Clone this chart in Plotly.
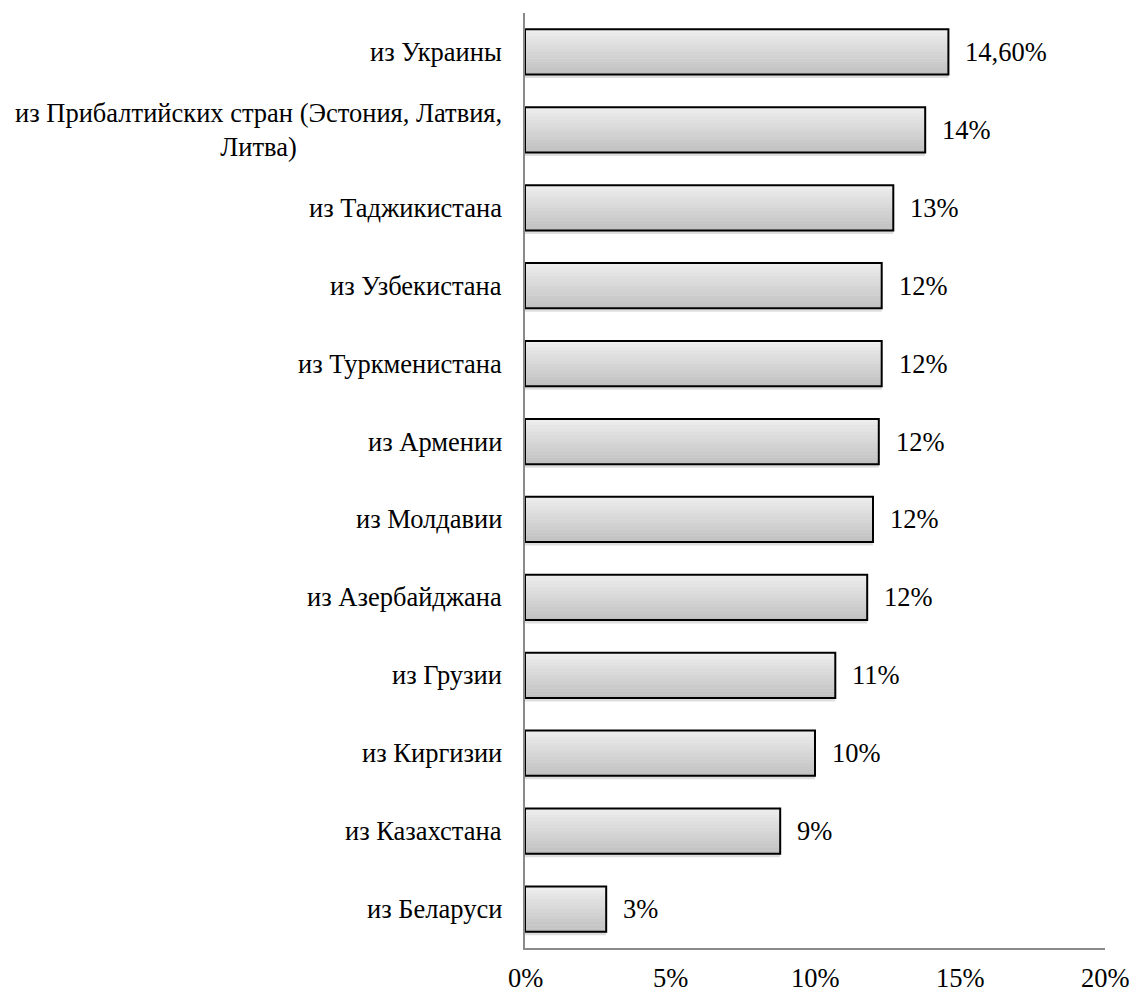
import plotly.graph_objects as go

categories = [
    "из Украины",
    "из Прибалтийских стран (Эстония, Латвия,<br>Литва)",
    "из Таджикистана",
    "из Узбекистана",
    "из Туркменистана",
    "из Армении",
    "из Молдавии",
    "из Азербайджана",
    "из Грузии",
    "из Киргизии",
    "из Казахстана",
    "из Беларуси",
]
values = [14.6, 13.8, 12.7, 12.3, 12.3, 12.2, 12.0, 11.8, 10.7, 10.0, 8.8, 2.8]
value_labels = ["14,60%", "14%", "13%", "12%", "12%", "12%", "12%", "12%", "11%", "10%", "9%", "3%"]
tick_vals = [0, 5, 10, 15, 20]
tick_text = ["0%", "5%", "10%", "15%", "20%"]

FONT = "Liberation Serif"
FS = 26.5
bar_w = 0.58
n_bands = 14
c_top = (237, 237, 237)
c_bot = (193, 193, 193)

fig = go.Figure()
# soft shadow below bars
fig.add_trace(go.Bar(
    x=values, y=categories, orientation="h",
    width=bar_w, offset=-bar_w / 2 + 0.045,
    marker=dict(color="rgba(0,0,0,0.13)", line=dict(width=0)),
    hoverinfo="skip", showlegend=False,
))
bw = bar_w / n_bands
for i in range(n_bands):
    t = i / (n_bands - 1)
    col = tuple(round(c_top[k] + (c_bot[k] - c_top[k]) * t) for k in range(3))
    fig.add_trace(go.Bar(
        x=values, y=categories, orientation="h",
        width=bw * 1.05, offset=-bar_w / 2 + i * bw,
        marker=dict(color="rgb(%d,%d,%d)" % col, line=dict(width=0)),
        hoverinfo="skip", showlegend=False,
    ))
# outline
fig.add_trace(go.Bar(
    x=values, y=categories, orientation="h",
    width=bar_w, offset=-bar_w / 2,
    marker=dict(color="rgba(0,0,0,0)", line=dict(color="black", width=2)),
    showlegend=False,
))

annotations = []
for c, v, lab in zip(categories, values, value_labels):
    annotations.append(dict(
        x=v, y=c, xref="x", yref="y", text=lab, showarrow=False,
        xanchor="left", yanchor="middle", xshift=15,
        font=dict(family=FONT, size=FS, color="black"),
    ))
    annotations.append(dict(
        x=0, y=c, xref="paper", yref="y", text=c, showarrow=False,
        xanchor="right", yanchor="middle", xshift=-21, align="center",
        font=dict(family=FONT, size=FS, color="black"),
    ))
# x-axis tick labels
for tv, tt in zip(tick_vals, tick_text):
    annotations.append(dict(
        x=tv, y=0, xref="x", yref="paper", text=tt, showarrow=False,
        xanchor="center", yanchor="middle", yshift=-30,
        font=dict(family=FONT, size=FS, color="black"),
    ))

fig.update_layout(
    width=1131, height=989,
    margin=dict(l=525, r=26, t=13, b=41, autoexpand=False),
    paper_bgcolor="white", plot_bgcolor="white",
    barmode="overlay",
    showlegend=False,
    annotations=annotations,
    font=dict(family=FONT, size=FS, color="black"),
    xaxis=dict(
        range=[0, 20], tickvals=tick_vals, showticklabels=False,
        showgrid=False, zeroline=False, showline=True,
        linecolor="#8a8a8a", linewidth=1.5, ticks="",
        automargin=False,
    ),
    yaxis=dict(
        categoryorder="array", categoryarray=categories,
        autorange="reversed", showticklabels=False,
        showgrid=False, zeroline=False, showline=True,
        linecolor="#8a8a8a", linewidth=1.5, ticks="",
        automargin=False,
    ),
)

fig.write_html(
    "out.html",
    config={"displayModeBar": False},
    post_script="document.body.style.margin='0';document.body.style.overflow='hidden';",
)
